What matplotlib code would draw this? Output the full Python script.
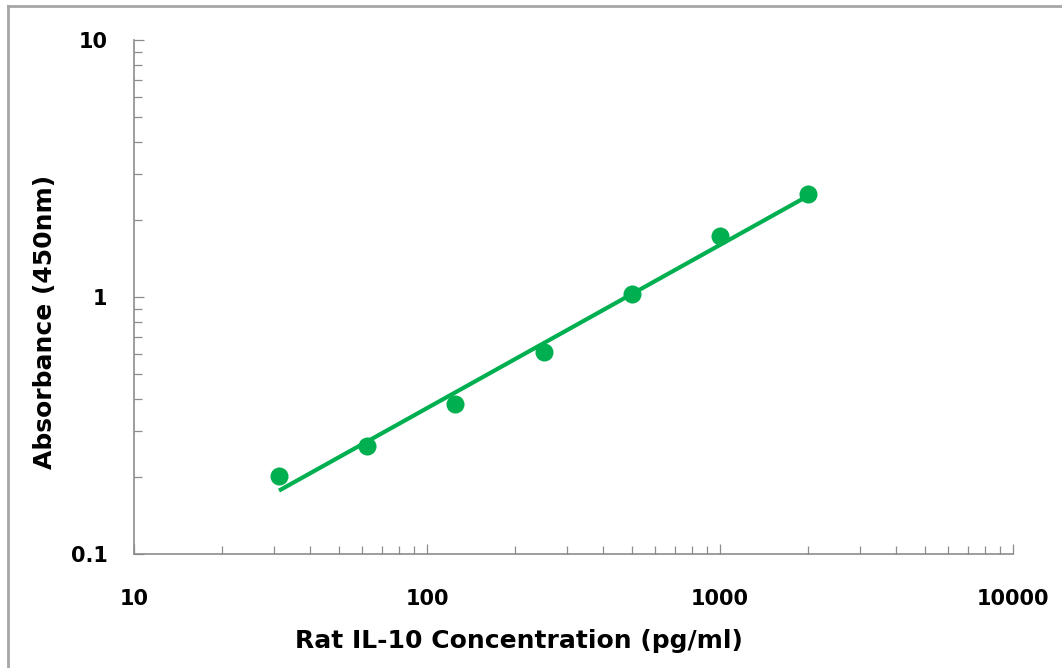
import numpy as np
import matplotlib
matplotlib.use("Agg")
import matplotlib.pyplot as plt
from matplotlib.lines import Line2D
from matplotlib.ticker import LogLocator, FixedLocator, FixedFormatter, NullFormatter

# Data
concentration = [31.25, 62.5, 125, 250, 500, 1000, 2000]
absorbance = [0.201, 0.263, 0.383, 0.611, 1.027, 1.73, 2.51]
x_tick_labels = ["10", "100", "1000", "10000"]
y_tick_labels = ["0.1", "1", "10"]

GREEN = "#00B050"
GRAY = "#8c8c8c"

fig = plt.figure(figsize=(10.62, 6.68), dpi=100)
ax = fig.add_axes([134 / 1062, 1 - 554 / 668, 879 / 1062, 514 / 668])

# power (log-log linear) trend line fitted from data
lx = np.log10(concentration)
ly = np.log10(absorbance)
slope, intercept = np.polyfit(lx, ly, 1)
xf = np.logspace(lx[0], lx[-1], 100)
yf = 10 ** (intercept + slope * np.log10(xf))

ax.plot(xf, yf, color=GREEN, lw=3.0, solid_capstyle="butt", zorder=2)
ax.plot(concentration, absorbance, "o", color=GREEN, ms=13, mec="none", zorder=3)

ax.set_xscale("log")
ax.set_yscale("log")
ax.set_xlim(10, 10000)
ax.set_ylim(0.1, 10)

for s in ["top", "right"]:
    ax.spines[s].set_visible(False)
for s in ["left", "bottom"]:
    ax.spines[s].set_color(GRAY)
    ax.spines[s].set_linewidth(1.2)

ax.xaxis.set_major_locator(FixedLocator([10, 100, 1000, 10000]))
ax.xaxis.set_major_formatter(FixedFormatter(x_tick_labels))
ax.yaxis.set_major_locator(FixedLocator([0.1, 1, 10]))
ax.yaxis.set_major_formatter(FixedFormatter(y_tick_labels))
ax.xaxis.set_minor_locator(LogLocator(base=10, subs=np.arange(2, 10), numticks=20))
ax.yaxis.set_minor_locator(LogLocator(base=10, subs=np.arange(2, 10), numticks=20))
ax.xaxis.set_minor_formatter(NullFormatter())
ax.yaxis.set_minor_formatter(NullFormatter())

ax.tick_params(which="major", direction="in", length=7, width=0.9, color=GRAY,
               labelsize=15)
ax.tick_params(which="minor", direction="in", length=5.5, width=0.9, color=GRAY)
ax.tick_params(axis="x", which="major", pad=25)
ax.tick_params(axis="y", which="major", pad=19)
for lab in ax.get_xticklabels() + ax.get_yticklabels():
    lab.set_fontweight("bold")
    lab.set_family("DejaVu Sans")

fig.text(519 / 1062, 1 - 641 / 668, "Rat IL-10 Concentration (pg/ml)", ha="center", va="center",
         fontsize=18, fontweight="bold", family="DejaVu Sans")
fig.text(45 / 1062, 1 - 322 / 668, "Absorbance (450nm)", ha="center", va="center",
         rotation=90, fontsize=18, fontweight="bold", family="DejaVu Sans")

# outer frame (top and left edges visible)
fig.add_artist(Line2D([7.5 / 1062, 1], [1 - 5.5 / 668, 1 - 5.5 / 668], transform=fig.transFigure,
                      color="#a6a6a6", lw=2))
fig.add_artist(Line2D([7.5 / 1062, 7.5 / 1062], [0, 1 - 5.5 / 668], transform=fig.transFigure,
                      color="#a6a6a6", lw=2))

fig.savefig("out.png", dpi=100)
